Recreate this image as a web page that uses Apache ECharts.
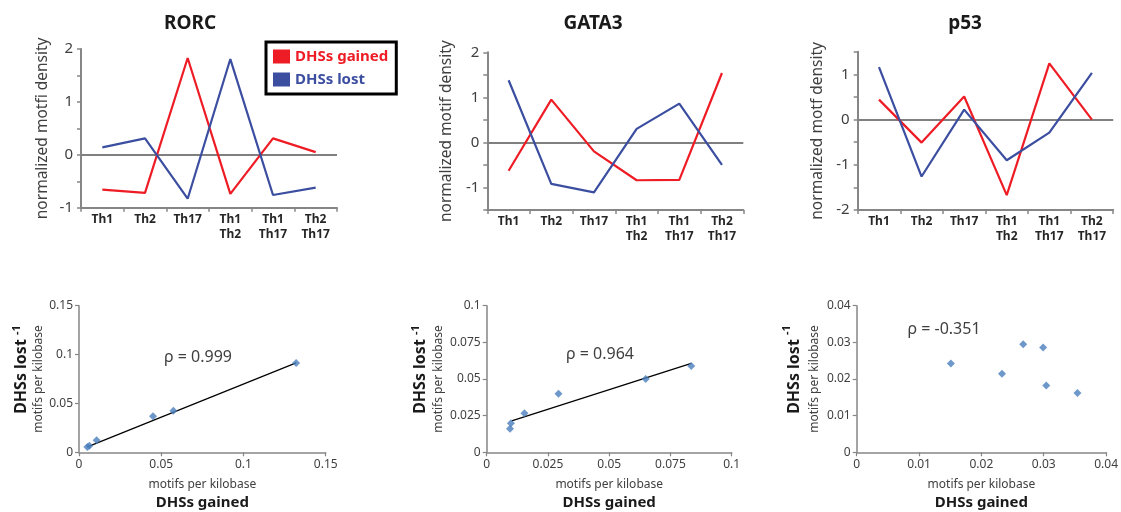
<!DOCTYPE html>
<html>
<head>
<meta charset="utf-8">
<script src="https://cdn.jsdelivr.net/npm/echarts@6/dist/echarts.min.js"></script>
<style>
html,body{margin:0;padding:0;background:#fff;}
#chart{width:1121px;height:512px;}
</style>
</head>
<body>
<div id="chart"></div>
<script>
// ---- data ----
const categories = ['Th1', 'Th2', 'Th17', 'Th1\nTh2', 'Th1\nTh17', 'Th2\nTh17'];
const titles = ['RORC', 'GATA3', 'p53'];
const yNames = ['normalized motfi density', 'normalized motif density', 'normalized motf density'];
const seriesNames = ['DHSs gained', 'DHSs lost'];

const rorcGained = [-0.66, -0.72, 1.83, -0.74, 0.31, 0.05];
const rorcLost = [0.14, 0.31, -0.83, 1.81, -0.76, -0.62];
const gata3Gained = [-0.63, 0.95, -0.20, -0.84, -0.83, 1.54];
const gata3Lost = [1.38, -0.92, -1.11, 0.30, 0.86, -0.50];
const p53Gained = [0.44, -0.51, 0.51, -1.67, 1.24, 0.00];
const p53Lost = [1.16, -1.26, 0.22, -0.90, -0.29, 1.03];

const lineMin = [-1, -1.5, -2];
const lineMax = [2, 2, 1.5];

const rorcX = [0.0051, 0.0063, 0.0107, 0.0450, 0.0574, 0.1320];
const rorcY = [0.0055, 0.0068, 0.0123, 0.0368, 0.0426, 0.0914];
const gata3X = [0.0095, 0.0099, 0.0154, 0.0293, 0.0649, 0.0835];
const gata3Y = [0.0161, 0.0198, 0.0266, 0.0400, 0.0500, 0.0589];
const p53X = [0.0151, 0.0233, 0.0267, 0.0299, 0.0304, 0.0354];
const p53Y = [0.0242, 0.0214, 0.0295, 0.0286, 0.0182, 0.0162];

const rorcTrendX = [0.0055, 0.1320];
const rorcTrendY = [0.0058, 0.0915];
const gata3TrendX = [0.0102, 0.0835];
const gata3TrendY = [0.0214, 0.0607];

const scatterMax = [0.15, 0.1, 0.04];
const scatterInterval = [0.05, 0.025, 0.01];
const rhoLabels = ['\u03c1 = 0.999', '\u03c1 = 0.964', '\u03c1 = -0.351'];

// ---- styling / layout ----
const RED = '#ee1c25';
const BLUE = '#3b4ea0';
const AXIS = '#868686';
const TXT = '#404040';
const FONT = 'Noto Sans';

const lineGrids = [
  {left: 81, top: 49, width: 256, height: 158.7},
  {left: 487.3, top: 52.3, width: 256, height: 157.7},
  {left: 857.7, top: 51.7, width: 255.5, height: 158.3}
];
const scatterGrids = [
  {left: 79, top: 305.7, width: 246.7, height: 146.6},
  {left: 486.7, top: 305.7, width: 245, height: 146.6},
  {left: 856.7, top: 305.7, width: 251, height: 146.6}
];
const yNameGaps = [30, 33, 32.5];
const scatterNameGaps = [33, 41, 35];
const scatterNameLH = [[20, 15], [20, 15], [25, 15]];
const titlePos = [[190, 24], [593, 24], [965, 24]];
const rhoPos = [[198, 357], [600, 354], [944, 329]];

const lineData = [[rorcGained, rorcLost], [gata3Gained, gata3Lost], [p53Gained, p53Lost]];
const scatterData = [[rorcX, rorcY], [gata3X, gata3Y], [p53X, p53Y]];
const trends = [[rorcTrendX, rorcTrendY], [gata3TrendX, gata3TrendY], null];

const grid = [], xAxis = [], yAxis = [], series = [], graphic = [];

function isInt(v) { return Math.abs(v - Math.round(v)) < 1e-9; }

for (let i = 0; i < 3; i++) {
  grid.push(Object.assign({containLabel: false}, lineGrids[i]));
  xAxis.push({
    gridIndex: i, type: 'category', data: categories, boundaryGap: true,
    axisLine: {onZero: false, lineStyle: {color: AXIS, width: 2}},
    axisTick: {show: true, length: 4, lineStyle: {color: AXIS, width: 1.5}},
    axisLabel: {interval: 0, fontFamily: FONT, fontWeight: 'bold', fontSize: 12, color: '#262626', lineHeight: 15, margin: 4},
    splitLine: {show: false}
  });
  yAxis.push({
    gridIndex: i, type: 'value', min: lineMin[i], max: lineMax[i], interval: 0.5,
    axisLine: {show: true, lineStyle: {color: AXIS, width: 2}},
    axisTick: {show: true, length: 4, lineStyle: {color: AXIS, width: 1.5}},
    axisLabel: {fontFamily: FONT, fontSize: 15, color: TXT, margin: 8,
      formatter: v => isInt(v) ? String(Math.round(v)) : ''},
    splitLine: {show: false},
    name: yNames[i], nameLocation: 'middle', nameGap: yNameGaps[i],
    nameTextStyle: {fontFamily: FONT, fontSize: 15.5, color: TXT}
  });
  for (let s = 0; s < 2; s++) {
    const ser = {
      type: 'line', name: seriesNames[s], xAxisIndex: i, yAxisIndex: i,
      data: lineData[i][s], showSymbol: false, symbol: 'none',
      lineStyle: {color: s === 0 ? RED : BLUE, width: 2.2},
      itemStyle: {color: s === 0 ? RED : BLUE},
      z: 3 + s
    };
    if (s === 0) {
      ser.markLine = {
        silent: true, symbol: ['none', 'none'], label: {show: false},
        lineStyle: {color: '#808080', width: 2, type: 'solid'},
        data: [{yAxis: 0}], z: 1
      };
    }
    series.push(ser);
  }
  graphic.push({
    type: 'text', x: titlePos[i][0], y: titlePos[i][1],
    style: {text: titles[i], fill: '#1a1a1a', font: 'bold 19px "' + FONT + '"', align: 'center', verticalAlign: 'middle'}
  });
}

for (let i = 0; i < 3; i++) {
  const gi = 3 + i;
  grid.push(Object.assign({containLabel: false}, scatterGrids[i]));
  xAxis.push({
    gridIndex: gi, type: 'value', min: 0, max: scatterMax[i], interval: scatterInterval[i],
    axisLine: {show: true, onZero: false, lineStyle: {color: AXIS, width: 1.5}},
    axisTick: {show: true, length: 4, lineStyle: {color: AXIS, width: 1.2}},
    axisLabel: {fontFamily: FONT, fontSize: 12, color: TXT, margin: 6},
    splitLine: {show: false},
    name: '{b|motifs per kilobase}\n{a|DHSs gained}', nameLocation: 'middle', nameGap: 25,
    nameTextStyle: {
      rich: {
        b: {fontFamily: FONT, fontSize: 12, color: TXT, lineHeight: 14},
        a: {fontFamily: FONT, fontSize: 15, fontWeight: 'bold', color: '#1a1a1a', lineHeight: 22}
      }
    }
  });
  yAxis.push({
    gridIndex: gi, type: 'value', min: 0, max: scatterMax[i], interval: scatterInterval[i],
    axisLine: {show: true, onZero: false, lineStyle: {color: AXIS, width: 1.5}},
    axisTick: {show: true, length: 4, lineStyle: {color: AXIS, width: 1.2}},
    axisLabel: {fontFamily: FONT, fontSize: 12, color: TXT, margin: 6},
    splitLine: {show: false},
    name: '{a|DHSs lost }{s|-1}\n{b|motifs per kilobase}', nameLocation: 'middle', nameGap: scatterNameGaps[i],
    nameTextStyle: {
      rich: {
        a: {fontFamily: FONT, fontSize: 16, fontWeight: 'bold', color: '#1a1a1a', lineHeight: scatterNameLH[i][0], align: 'right'},
        s: {fontFamily: FONT, fontSize: 11, fontWeight: 'bold', color: '#1a1a1a', verticalAlign: 'top', lineHeight: 14, align: 'right'},
        b: {fontFamily: FONT, fontSize: 12, color: TXT, lineHeight: scatterNameLH[i][1], align: 'right'}
      }
    }
  });
  const pts = scatterData[i][0].map((x, k) => [x, scatterData[i][1][k]]);
  series.push({
    type: 'scatter', xAxisIndex: gi, yAxisIndex: gi, data: pts,
    symbol: 'diamond', symbolSize: 8,
    itemStyle: {color: '#4a7ebb'}, z: 4
  });
  if (trends[i]) {
    const t = trends[i];
    series.push({
      type: 'line', xAxisIndex: gi, yAxisIndex: gi,
      data: t[0].map((x, k) => [x, t[1][k]]),
      showSymbol: false, symbol: 'none',
      lineStyle: {color: '#000', width: 1.2}, z: 3
    });
  }
  graphic.push({
    type: 'text', x: rhoPos[i][0], y: rhoPos[i][1],
    style: {text: rhoLabels[i], fill: TXT, font: '16px "' + FONT + '"', align: 'center', verticalAlign: 'middle'}
  });
}

const chart = echarts.init(document.getElementById('chart'), null, {renderer: 'canvas'});
chart.setOption({
  animation: false,
  backgroundColor: '#ffffff',
  grid, xAxis, yAxis, series, graphic,
  legend: {
    show: true, orient: 'vertical', left: 266, top: 42,
    data: [
      {name: 'DHSs gained', icon: 'rect', textStyle: {color: RED}},
      {name: 'DHSs lost', icon: 'rect', textStyle: {color: BLUE}}
    ],
    itemWidth: 17, itemHeight: 14, itemGap: 8,
    padding: [7, 8, 7, 7],
    borderColor: '#000', borderWidth: 3,
    backgroundColor: '#fff',
    textStyle: {fontFamily: FONT, fontSize: 15, fontWeight: 'bold'},
    selectedMode: false
  }
});
</script>
</body>
</html>
